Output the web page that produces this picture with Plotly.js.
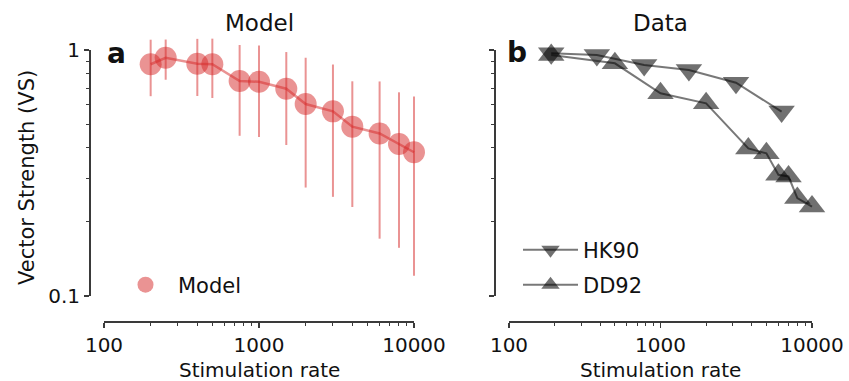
<!DOCTYPE html>
<html>
<head>
<meta charset="utf-8">
<script src="https://cdn.plot.ly/plotly-3.0.1.min.js"></script>
<style>html,body{margin:0;padding:0;background:#fff;}#chart{width:849px;height:381px;}</style>
</head>
<body>
<div id="chart"></div>
<script>
// ---- data ----
const modelRate = [200, 250, 400, 500, 750, 1000, 1500, 2000, 3000, 4000, 6000, 8000, 10000];
const modelVS   = [0.875, 0.93, 0.88, 0.875, 0.748, 0.743, 0.696, 0.603, 0.563, 0.488, 0.458, 0.415, 0.384];
const modelSD   = [0.226, 0.173, 0.23, 0.237, 0.30, 0.30, 0.285, 0.327, 0.31, 0.258, 0.287, 0.258, 0.263];

const hk90Rate = [190, 380, 780, 1540, 3150, 6300];
const hk90VS   = [0.969, 0.954, 0.869, 0.829, 0.736, 0.562];

const dd92Rate = [190, 500, 1000, 2000, 3800, 5000, 6000, 7000, 8000, 10000];
const dd92VS   = [0.954, 0.883, 0.667, 0.607, 0.398, 0.380, 0.311, 0.306, 0.250, 0.231];

const xTickVals = [100, 1000, 10000];
const xTickText = ['100', '1000', '10000'];
const xMinor = [200, 300, 400, 500, 600, 700, 800, 900, 2000, 3000, 4000, 5000, 6000, 7000, 8000, 9000];
const yTickVals = [0.1, 1];
const yTickText = ['0.1', '1'];
const yMinor = [0.2, 0.3, 0.4, 0.5, 0.6, 0.7, 0.8, 0.9];

// ---- layout helpers ----
const W = 849, H = 381;
const fx = p => p / W;
const fy = p => 1 - p / H;
const FONT = 'DejaVu Sans, Liberation Sans, sans-serif';
const AX = '#3a3a3a';
const red = 'rgba(214,39,40,0.5)';
const redLine = 'rgba(214,39,40,0.5)';
const grey = 'rgba(0,0,0,0.56)';
const greyLine = 'rgba(30,30,30,0.6)';

// spine geometry (pixels) : x range [2,4] (log10), y range [-1,0]
const SPY = [50, 296];
const panels = [
  {spx: [104, 414], yPos: 89, dataPx: [90, 442]},
  {spx: [509, 812], yPos: 494, dataPx: [495, 840]}
];
const dataPy = [26, 306];

// spine (visible) axes
function spineX(sp) {
  return {
    domain: [fx(sp[0]), fx(sp[1])], anchor: 'free', position: fy(321), type: 'log', range: [2, 4],
    tickmode: 'array', tickvals: xTickVals, ticktext: xTickText,
    ticks: 'outside', ticklen: 5, tickwidth: 1.5, tickcolor: AX,
    showline: true, linecolor: AX, linewidth: 1.5, showgrid: false, zeroline: false,
    minor: {tickmode: 'array', tickvals: xMinor, ticks: 'outside', ticklen: 3, tickwidth: 1, tickcolor: AX, showgrid: false},
    tickfont: {family: FONT, size: 20, color: '#111'}, automargin: false, fixedrange: true
  };
}
function spineY(pos, labels) {
  return {
    domain: [fy(SPY[1]), fy(SPY[0])], anchor: 'free', position: fx(pos), type: 'log', range: [-1, 0],
    tickmode: 'array', tickvals: yTickVals, ticktext: yTickText, showticklabels: labels,
    ticks: 'outside', ticklen: 5, tickwidth: 1.5, tickcolor: AX,
    showline: true, linecolor: AX, linewidth: 1.5, showgrid: false, zeroline: false,
    minor: {tickmode: 'array', tickvals: yMinor, ticks: 'outside', ticklen: 3, tickwidth: 1, tickcolor: AX, showgrid: false},
    tickfont: {family: FONT, size: 20, color: '#111'}, automargin: false, fixedrange: true
  };
}
// data (hidden) axes: same scale as spines, wider area so nothing is clipped
function dataX(p, anchor) {
  const k = 2 / (p.spx[1] - p.spx[0]);
  return {domain: [fx(p.dataPx[0]), fx(p.dataPx[1])], anchor: anchor, type: 'log', visible: false,
          range: [2 + (p.dataPx[0] - p.spx[0]) * k, 2 + (p.dataPx[1] - p.spx[0]) * k], fixedrange: true};
}
function dataY(anchor) {
  const k = 1 / (SPY[1] - SPY[0]);
  return {domain: [fy(dataPy[1]), fy(dataPy[0])], anchor: anchor, type: 'log', visible: false,
          range: [-(dataPy[1] - SPY[0]) * k, -(dataPy[0] - SPY[0]) * k], fixedrange: true};
}

const traces = [
  {x: modelRate, y: modelVS, xaxis: 'x', yaxis: 'y', mode: 'lines', showlegend: false,
   line: {color: redLine, width: 2.5}, hoverinfo: 'skip'},
  {x: modelRate, y: modelVS, xaxis: 'x', yaxis: 'y', mode: 'markers', name: 'Model', legend: 'legend',
   marker: {size: 22, color: red, line: {width: 0}},
   error_y: {type: 'data', array: modelSD, visible: true, color: redLine, thickness: 2, width: 0}},
  {x: hk90Rate, y: hk90VS, xaxis: 'x2', yaxis: 'y2', mode: 'lines+markers', name: 'HK90', legend: 'legend2',
   marker: {symbol: 'triangle-down', size: 23, color: grey, line: {width: 0}},
   line: {color: greyLine, width: 2}},
  {x: dd92Rate, y: dd92VS, xaxis: 'x2', yaxis: 'y2', mode: 'lines+markers', name: 'DD92', legend: 'legend3',
   marker: {symbol: 'triangle-up', size: 23, color: grey, line: {width: 0}},
   line: {color: greyLine, width: 2}},
  // empty traces that carry the spine axes
  {x: [], y: [], xaxis: 'x3', yaxis: 'y3', mode: 'markers', showlegend: false, hoverinfo: 'skip'},
  {x: [], y: [], xaxis: 'x4', yaxis: 'y4', mode: 'markers', showlegend: false, hoverinfo: 'skip'}
];

function leg(xp, yp) {
  return {x: fx(xp), y: fy(yp), xanchor: 'left', yanchor: 'middle', bgcolor: 'rgba(0,0,0,0)',
          borderwidth: 0, font: {family: FONT, size: 21, color: '#111'}, itemwidth: 55};
}

const ann = (text, x, y, size, extra) => Object.assign({
  text: text, x: fx(x), y: fy(y), xref: 'paper', yref: 'paper', showarrow: false,
  xanchor: 'center', yanchor: 'middle', font: {family: FONT, size: size, color: '#111'}
}, extra || {});

const layout = {
  width: W, height: H, margin: {l: 0, r: 0, t: 0, b: 0},
  paper_bgcolor: '#fff', plot_bgcolor: 'rgba(0,0,0,0)', showlegend: true,
  xaxis: dataX(panels[0], 'y'),
  yaxis: dataY('x'),
  xaxis2: dataX(panels[1], 'y2'),
  yaxis2: dataY('x2'),
  xaxis3: spineX(panels[0].spx),
  yaxis3: spineY(panels[0].yPos, true),
  xaxis4: spineX(panels[1].spx),
  yaxis4: spineY(panels[1].yPos, false),
  legend: leg(113, 285),
  legend2: leg(518, 250),
  legend3: leg(518, 285),
  annotations: [
    ann('Model', 259, 23, 23),
    ann('Data', 660, 23, 23),
    ann('<b>a</b>', 116, 54, 28),
    ann('<b>b</b>', 517, 52, 28),
    ann('Stimulation rate', 259, 370, 20),
    ann('Stimulation rate', 660, 370, 20),
    ann('Vector Strength (VS)', 27, 178, 21, {textangle: -90})
  ]
};

Plotly.newPlot('chart', traces, layout, {staticPlot: true, displayModeBar: false});
</script>
</body>
</html>
